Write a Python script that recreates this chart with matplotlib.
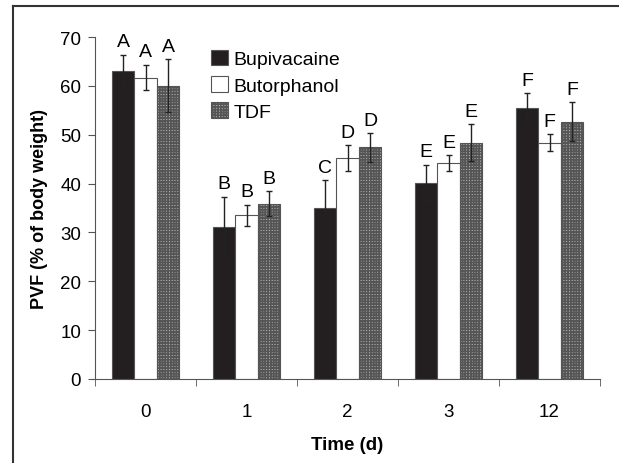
import numpy as np
import matplotlib.pyplot as plt
from matplotlib.lines import Line2D
from matplotlib.patches import Patch

plt.rcParams['font.family'] = ['Liberation Sans', 'DejaVu Sans']
plt.rcParams['hatch.linewidth'] = 1.2
plt.rcParams['hatch.color'] = '#2a2a2a'

days = ['0', '1', '2', '3', '12']
bupivacaine = [63.1, 31.2, 35.0, 40.2, 55.5]
bupivacaine_err = [3.3, 6.1, 5.7, 3.7, 3.0]
butorphanol = [61.7, 33.5, 45.2, 44.2, 48.4]
butorphanol_err = [2.6, 2.2, 2.7, 1.6, 1.7]
tdf = [60.0, 35.9, 47.4, 48.4, 52.7]
tdf_err = [5.4, 2.6, 2.9, 3.7, 3.9]
letters_bup = ['A', 'B', 'C', 'E', 'F']
letters_but = ['A', 'B', 'D', 'E', 'F']
letters_tdf = ['A', 'B', 'D', 'E', 'F']

fig = plt.figure(figsize=(6.19, 4.64), dpi=100)
ax = fig.add_axes([95 / 619, 1 - 380 / 464, 505 / 619, (380 - 38) / 464])

x = np.arange(len(days))
w = 0.223
series = [
    (bupivacaine, bupivacaine_err, letters_bup, '#231f20', None, 'Bupivacaine'),
    (butorphanol, butorphanol_err, letters_but, 'white', None, 'Butorphanol'),
    (tdf, tdf_err, letters_tdf, '#b4b4b4', '++++++', 'TDF'),
]
handles = []
for i, (vals, errs, lets, fc, hatch, name) in enumerate(series):
    pos = x + (i - 1) * w
    ax.bar(pos, vals, w, color=fc, edgecolor='#555555', linewidth=0.8,
           hatch=hatch, zorder=2)
    ax.errorbar(pos, vals, yerr=errs, fmt='none', ecolor='#222222',
                elinewidth=1, capsize=2.5, capthick=1, zorder=3)
    for p, v, e, t in zip(pos, vals, errs, lets):
        ax.text(p, v + e + 0.9, t, ha='center', va='bottom', fontsize=14)
    handles.append(Patch(facecolor=fc, edgecolor='#555555', hatch=hatch,
                         linewidth=0.8, label=name))

ax.set_xlim(-0.5, len(days) - 0.5)
ax.set_ylim(0, 70)
ax.set_yticks(range(0, 71, 10))
ax.set_xticks(x)
ax.set_xticklabels(days)
ax.set_xticks(np.arange(len(days) + 1) - 0.5, minor=True)
ax.tick_params(axis='x', which='major', length=0, pad=17, labelsize=13.5)
ax.tick_params(axis='x', which='minor', length=5, color='#555555')
ax.tick_params(axis='y', length=5, color='#555555', labelsize=13.5, pad=5)
for s in ['top', 'right']:
    ax.spines[s].set_visible(False)
for s in ['left', 'bottom']:
    ax.spines[s].set_color('#555555')
ax.set_ylabel('PVF (% of body weight)', fontsize=13, fontweight='bold', labelpad=9)
ax.set_xlabel('Time (d)', fontsize=13.5, fontweight='bold', labelpad=12)

ax.legend(handles=handles, loc='upper left', bbox_to_anchor=(0.215, 0.985),
          frameon=False, fontsize=14, handlelength=0.85, handleheight=0.85,
          handletextpad=0.3, labelspacing=0.4, borderaxespad=0)

# frame around the figure (only top and left show in the crop)
fig.add_artist(Line2D([13 / 619, 13 / 619], [0, 1 - 7 / 464], color='#333333', lw=1.5))
fig.add_artist(Line2D([13 / 619, 1], [1 - 7 / 464, 1 - 7 / 464], color='#333333', lw=1.5))

fig.savefig('out.png', dpi=100)
